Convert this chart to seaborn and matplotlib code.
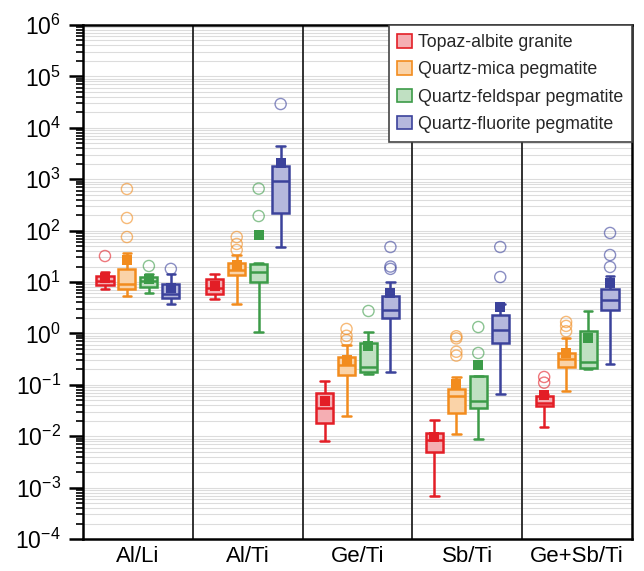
import numpy as np
import pandas as pd
import matplotlib
matplotlib.use("Agg")
import matplotlib.pyplot as plt
import seaborn as sns
from matplotlib.patches import Patch
from matplotlib.ticker import LogLocator, NullFormatter, FixedLocator

# ---------------- data ----------------
categories = ["Al/Li", "Al/Ti", "Ge/Ti", "Sb/Ti", "Ge+Sb/Ti"]
groups = ["Topaz-albite granite", "Quartz-mica pegmatite",
          "Quartz-feldspar pegmatite", "Quartz-fluorite pegmatite"]
y_exponents = [-4, -3, -2, -1, 0, 1, 2, 3, 4, 5, 6]

# per group (rows) x per category (columns)
whisker_low = [
    [7.3, 4.6, 0.0081, 0.00069, 0.0151],
    [5.3, 3.8, 0.025, 0.011, 0.076],
    [6.1, 1.06, 0.16, 0.0088, 0.20],
    [3.7, 48, 0.177, 0.066, 0.254],
]
q1 = [
    [8.8, 5.8, 0.018, 0.0049, 0.039],
    [7.3, 13.7, 0.155, 0.028, 0.22],
    [8.0, 10.0, 0.177, 0.035, 0.21],
    [4.9, 220, 2.0, 0.65, 2.85],
]
median = [
    [10.5, 7.8, 0.036, 0.0085, 0.044],
    [9.1, 17.1, 0.24, 0.0605, 0.32],
    [10.5, 15.7, 0.22, 0.048, 0.28],
    [5.8, 920, 2.85, 1.16, 4.5],
]
q3 = [
    [13.0, 11.5, 0.069, 0.0115, 0.061],
    [17.9, 23.4, 0.35, 0.083, 0.42],
    [12.5, 22.4, 0.65, 0.148, 1.11],
    [9.1, 1800, 5.3, 2.28, 7.3],
]
whisker_high = [
    [15.5, 14.3, 0.119, 0.0207, 0.065],
    [36.6, 33.5, 0.59, 0.142, 0.81],
    [14.3, 23.0, 1.06, 0.15, 2.73],
    [14.0, 4400, 10.0, 3.7, 13.1],
]
means = [
    [11.8, 8.2, 0.048, 0.0096, 0.062],
    [26.8, 21.0, 0.30, 0.103, 0.42],
    [11.5, 82, 0.57, 0.243, 0.81],
    [7.5, 2070, 6.1, 3.2, 9.6],
]
outliers = [
    [[32], [], [], [], [0.142, 0.11]],
    [[645, 176, 75], [75, 55, 42], [1.22, 0.9, 0.74], [0.88, 0.80, 0.44, 0.37], [1.67, 1.4, 1.1]],
    [[20.5], [655, 192], [2.73], [1.33, 0.416], []],
    [[18], [29000], [48, 20, 18], [48, 12.5], [90, 33.5, 19.6]],
]

strong = ["#E31E26", "#F28C1E", "#3C9B48", "#3B429B"]
light = ["#F5AEB3", "#FAD3A8", "#C0E0C2", "#B5B8DD"]

# ---------------- tables ----------------
box_rows, mean_rows, out_rows = [], [], []
for gi, g in enumerate(groups):
    for ci, c in enumerate(categories):
        for v in (whisker_low[gi][ci], q1[gi][ci], median[gi][ci], q3[gi][ci], whisker_high[gi][ci]):
            box_rows.append((c, g, v))
        mean_rows.append((c, g, means[gi][ci]))
        for v in outliers[gi][ci]:
            out_rows.append((c, g, v))
box_df = pd.DataFrame(box_rows, columns=["ratio", "group", "value"])
mean_df = pd.DataFrame(mean_rows, columns=["ratio", "group", "value"])
out_df = pd.DataFrame(out_rows, columns=["ratio", "group", "value"])

# ---------------- style ----------------
sns.set_theme(style="white")
plt.rcParams["font.family"] = ["Liberation Sans", "DejaVu Sans"]
plt.rcParams["mathtext.fontset"] = "custom"
plt.rcParams["mathtext.rm"] = "Liberation Sans"
plt.rcParams["mathtext.it"] = "Liberation Sans:italic"
plt.rcParams["mathtext.bf"] = "Liberation Sans:bold"

fig = plt.figure(figsize=(6.44, 5.71), dpi=100)
ax = fig.add_axes([83 / 644, 32 / 571, 549 / 644, 514 / 571])
ax.set_yscale("log")

for gi, g in enumerate(groups):
    sub = box_df[box_df["group"] == g]
    sns.boxplot(data=sub, x="ratio", y="value", hue="group",
                order=categories, hue_order=groups,
                palette=dict(zip(groups, light)), linecolor=strong[gi],
                linewidth=1.8, width=0.8, gap=0.22, dodge=True,
                whis=(0, 100), showfliers=False, saturation=1,
                log_scale=True, legend=False, ax=ax)

sns.stripplot(data=mean_df, x="ratio", y="value", hue="group",
              order=categories, hue_order=groups,
              palette=dict(zip(groups, strong)), dodge=True, jitter=False,
              marker="s", size=6.5, linewidth=0, legend=False, ax=ax, zorder=5)

n_before = len(ax.collections)
sns.stripplot(data=out_df, x="ratio", y="value", hue="group",
              order=categories, hue_order=groups,
              palette=dict(zip(groups, strong)), dodge=True, jitter=False,
              marker="o", size=8, linewidth=0, legend=False, ax=ax, zorder=5)
for coll in ax.collections[n_before:]:
    fc = np.array(coll.get_facecolors())
    if len(fc):
        fc[:, 3] = 0.6
        coll.set_edgecolors(fc)
        coll.set_facecolors("none")
        coll.set_linewidths(1.0)

# ---------------- axes ----------------
ax.set_ylim(10.0 ** y_exponents[0], 10.0 ** y_exponents[-1])
ax.set_xlim(-0.5, len(categories) - 0.5)
ax.yaxis.set_major_locator(FixedLocator([10.0 ** e for e in y_exponents]))
ax.yaxis.set_minor_locator(LogLocator(base=10, subs=np.arange(2, 10), numticks=200))
ax.yaxis.set_minor_formatter(NullFormatter())
ax.grid(axis="y", which="both", color="#dcdcdc", linewidth=0.8)
ax.grid(axis="x", visible=False)
ax.set_axisbelow(True)

for xpos in np.arange(0.5, len(categories) - 0.5):
    ax.axvline(xpos, color="#222222", linewidth=1.3, zorder=1)

for s in ax.spines.values():
    s.set_visible(True)
    s.set_color("black")
    s.set_linewidth(1.8)

ax.tick_params(axis="y", which="major", direction="out", length=10, width=1.8,
               labelsize=16.5, pad=6, left=True, colors="black")
ax.tick_params(axis="y", which="minor", direction="out", length=5, width=1.2,
               left=True, colors="black")
ax.tick_params(axis="x", length=0, labelsize=16, pad=5, colors="black")
ax.set_xlabel("")
ax.set_ylabel("")

handles = [Patch(facecolor=light[i], edgecolor=strong[i], linewidth=1.2) for i in range(len(groups))]
leg = ax.legend(handles, groups, loc="upper right", bbox_to_anchor=(1, 1),
                borderaxespad=0, frameon=True, fancybox=False, framealpha=1,
                edgecolor="#444444", fontsize=12.8, handlelength=0.8,
                handleheight=0.8, handletextpad=0.35, labelspacing=0.58,
                borderpad=0.5)
leg.get_frame().set_linewidth(1.2)
leg.set_zorder(10)

fig.savefig("out.png", dpi=100)
